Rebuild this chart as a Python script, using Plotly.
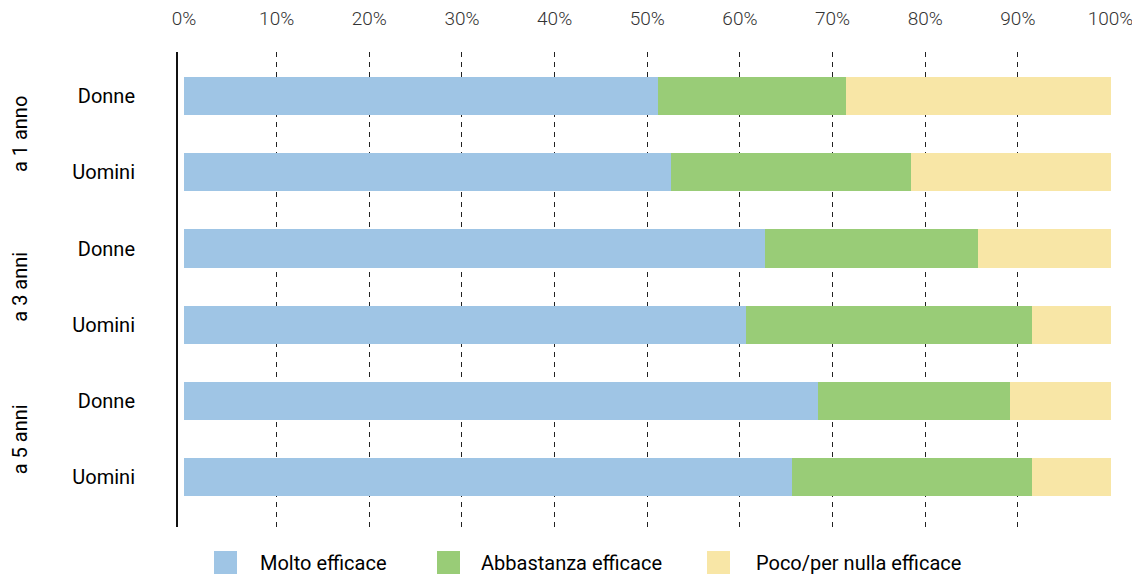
import plotly.graph_objects as go

groups = ["a 1 anno", "a 3 anni", "a 5 anni"]
genders = ["Donne", "Uomini", "Donne", "Uomini", "Donne", "Uomini"]
series_names = ["Molto efficace", "Abbastanza efficace", "Poco/per nulla efficace"]
molto = [51.2, 52.6, 62.7, 60.7, 68.4, 65.6]
abbastanza = [20.3, 25.9, 23.0, 30.8, 20.8, 25.9]
poco = [28.5, 21.5, 14.3, 8.5, 10.8, 8.5]
tick_vals_x = [0, 10, 20, 30, 40, 50, 60, 70, 80, 90, 100]
tick_text_x = [f"{v}%" for v in tick_vals_x]

colors = ["#9FC5E5", "#99CC77", "#F8E6A6"]
rows = list(range(len(genders)))

# layout constants (figure pixel space; page adds an 8px body margin)
W, H = 1132, 570
ML, MR, MT, MB = 170, 29, 44, 51
PW, PH = W - ML - MR, H - MT - MB

fig = go.Figure()
for name, vals, col in zip(series_names, [molto, abbastanza, poco], colors):
    fig.add_trace(go.Bar(
        y=rows, x=vals, name=name, orientation="h",
        marker=dict(color=col, line=dict(width=0)),
        width=0.5, showlegend=False,
    ))

font_main = "Roboto, 'Noto Sans', sans-serif"

fig.update_layout(
    width=W, height=H,
    barmode="stack",
    plot_bgcolor="white", paper_bgcolor="white",
    margin=dict(l=ML, r=MR, t=MT, b=MB, autoexpand=False),
    font=dict(family=font_main, color="#111111"),
    xaxis=dict(
        side="top", range=[-0.65, 100.05],
        tickvals=tick_vals_x, ticktext=tick_text_x,
        tickfont=dict(size=19, color="#333333", weight=300),
        showgrid=True, gridcolor="#222222", gridwidth=1.2, griddash="5px,5px",
        zeroline=True, zerolinecolor="rgba(0,0,0,0)",
        showline=False, ticks="", ticklabelstandoff=22, automargin=False,
    ),
    yaxis=dict(
        range=[5.65, -0.576],
        tickvals=rows, ticktext=genders,
        tickfont=dict(size=20, color="#000000", weight=400),
        showgrid=False, zeroline=False,
        showline=True, linecolor="#111111", linewidth=2,
        ticks="", ticklabelstandoff=37, automargin=False,
    ),
    showlegend=False,
)

# manual legend (swatch + label), positioned in figure pixels
swatch_left = [206, 429, 699]
label_left = [250, 471, 746]
sw_top, sw_size, label_mid = 543, 23, 555
for name, col, sx, lx in zip(series_names, colors, swatch_left, label_left):
    fig.add_shape(
        type="rect", xref="paper", yref="paper",
        x0=(sx - ML) / PW, x1=(sx + sw_size - ML) / PW,
        y0=(H - MB - sw_top) / PH, y1=(H - MB - sw_top - sw_size) / PH,
        fillcolor=col, line=dict(width=0),
    )
    fig.add_annotation(
        x=(lx - ML) / PW, y=(H - MB - label_mid) / PH, xref="paper", yref="paper",
        text=name, showarrow=False, xanchor="left", yanchor="middle",
        font=dict(size=20, color="#000000", weight=400),
    )

for i, g in enumerate(groups):
    fig.add_annotation(
        x=0.0, xref="paper", xshift=-158, y=2 * i + 0.5, yref="y",
        text=g, textangle=-90, showarrow=False,
        font=dict(size=20, color="#000000", weight=400),
        xanchor="center", yanchor="middle",
    )

fig.write_html("out.html")
